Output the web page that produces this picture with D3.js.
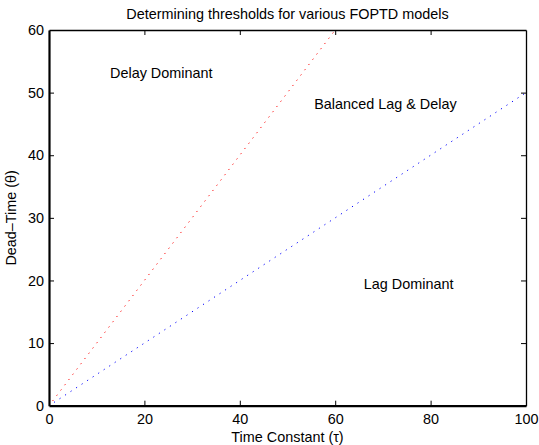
<!DOCTYPE html>
<html>
<head>
<meta charset="utf-8">
<script src="https://cdn.jsdelivr.net/npm/d3@7"></script>
<style>
  html, body { margin: 0; padding: 0; background: #fff; }
  svg { display: block; font-family: "Liberation Sans", Arial, Helvetica, sans-serif; }
</style>
</head>
<body>
<svg id="chart" width="539" height="445"></svg>
<script>
// Threshold lines in the (time constant, dead-time) plane
const delayTau = [0, 60];       // θ = τ  boundary
const delayTheta = [0, 60];
const lagTau = [0, 100];        // θ = τ/2 boundary
const lagTheta = [0, 50];

const xTicks = [0, 20, 40, 60, 80, 100];
const yTicks = [0, 10, 20, 30, 40, 50, 60];

// Region labels placed at data coordinates
const regionNames = ["Delay Dominant", "Balanced Lag & Delay", "Lag Dominant"];
const regionTau = [12.8, 55.6, 66];
const regionTheta = [53.2, 48.2, 19.5];

const W = 539, H = 445;
const margin = { top: 30, right: 13, bottom: 39.3, left: 49 };
const iw = W - margin.left - margin.right;
const ih = H - margin.top - margin.bottom;

const svg = d3.select("#chart");
const g = svg.append("g").attr("transform", `translate(${margin.left},${margin.top})`);

const x = d3.scaleLinear().domain([0, 100]).range([0, iw]);
const y = d3.scaleLinear().domain([0, 60]).range([ih, 0]);

svg.append("defs").append("clipPath").attr("id", "plotClip")
  .append("rect").attr("width", iw).attr("height", ih);

// Dotted threshold lines
const line = d3.line().x(d => x(d[0])).y(d => y(d[1]));
const plot = g.append("g").attr("clip-path", "url(#plotClip)");
plot.append("path")
  .datum(d3.zip(delayTau, delayTheta))
  .attr("d", line)
  .attr("fill", "none")
  .attr("stroke", "#ff0000")
  .attr("stroke-width", 1)
  .attr("stroke-dasharray", "1.2 5.4")
  .attr("stroke-dashoffset", -6);
plot.append("path")
  .datum(d3.zip(lagTau, lagTheta))
  .attr("d", line)
  .attr("fill", "none")
  .attr("stroke", "#0000ff")
  .attr("stroke-width", 1)
  .attr("stroke-dasharray", "1.2 5.4")
  .attr("stroke-dashoffset", -6);

// Axes with inward ticks on all four sides
const fontSize = 14.4;
const axBottom = g.append("g").attr("transform", `translate(0,${ih})`)
  .call(d3.axisBottom(x).tickValues(xTicks).tickFormat(d3.format("d"))
    .tickSizeInner(-5).tickSizeOuter(0).tickPadding(8));
const axLeft = g.append("g")
  .call(d3.axisLeft(y).tickValues(yTicks).tickFormat(d3.format("d"))
    .tickSizeInner(-5).tickSizeOuter(0).tickPadding(5));
const axTop = g.append("g")
  .call(d3.axisTop(x).tickValues(xTicks).tickFormat("")
    .tickSizeInner(-5).tickSizeOuter(0));
const axRight = g.append("g").attr("transform", `translate(${iw},0)`)
  .call(d3.axisRight(y).tickValues(yTicks).tickFormat("")
    .tickSizeInner(-5).tickSizeOuter(0));

[axBottom, axLeft, axTop, axRight].forEach(a => {
  a.selectAll("text").attr("font-size", fontSize).attr("fill", "#000")
    .attr("font-family", "Liberation Sans, Arial, sans-serif");
  a.selectAll(".tick line").attr("stroke", "#000").attr("stroke-width", 1);
  a.select(".domain").attr("stroke", "#000");
});
axBottom.select(".domain").attr("stroke-width", 2.2);
axLeft.select(".domain").attr("stroke-width", 2.2);
axTop.select(".domain").attr("stroke-width", 1.3);
axRight.select(".domain").attr("stroke-width", 1.3);
// drop the tick marks that sit on the axis corners
[axBottom, axTop].forEach(a => a.selectAll(".tick").filter(d => d === 0 || d === 100).select("line").remove());
[axLeft, axRight].forEach(a => a.selectAll(".tick").filter(d => d === 0 || d === 60).select("line").remove());

// Region labels
g.selectAll("text.region")
  .data(regionNames)
  .join("text")
  .attr("class", "region")
  .attr("x", (d, i) => x(regionTau[i]))
  .attr("y", (d, i) => y(regionTheta[i]))
  .attr("dominant-baseline", "central")
  .attr("font-size", fontSize)
  .attr("fill", "#000")
  .text(d => d);

// Title and axis labels
svg.append("text")
  .attr("x", margin.left + iw / 2).attr("y", 19)
  .attr("text-anchor", "middle").attr("font-size", fontSize)
  .text("Determining thresholds for various FOPTD models");

svg.append("text")
  .attr("x", margin.left + iw / 2).attr("y", 442)
  .attr("text-anchor", "middle").attr("font-size", fontSize)
  .text("Time Constant (τ)");

svg.append("text")
  .attr("transform", `translate(16,${margin.top + ih / 2}) rotate(-90)`)
  .attr("text-anchor", "middle").attr("font-size", fontSize)
  .text("Dead–Time (θ)");
</script>
</body>
</html>
